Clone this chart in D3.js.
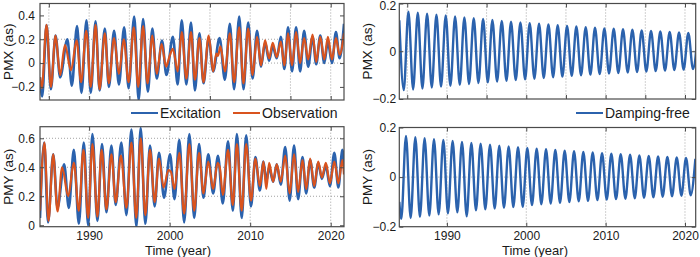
<!DOCTYPE html>
<html>
<head>
<meta charset="utf-8">
<script src="https://cdn.jsdelivr.net/npm/d3@7"></script>
<style>
  body { margin: 0; background: #fff; }
  svg { display: block; font-family: 'Liberation Sans', Arial, sans-serif; }
</style>
</head>
<body>
<svg width="700" height="257"></svg>
<script>
// extrema: [year, value in arcsec]
var pmxExc = [[1983.9,-0.12],[1984.17,-0.28],[1984.71,0.32],[1985.25,-0.22],[1985.83,0.23],[1986.4,-0.12],[1987.3,0.2],[1987.85,-0.19],[1988.5,0.31],[1989.05,-0.25],[1989.67,0.36],[1990.2,-0.25],[1990.8,0.35],[1991.3,-0.23],[1991.95,0.29],[1992.45,-0.2],[1993.1,0.27],[1993.7,-0.18],[1994.35,0.3],[1994.9,-0.21],[1995.6,0.39],[1996.15,-0.31],[1996.7,0.37],[1997.3,-0.24],[1997.85,0.29],[1998.4,-0.13],[1999.05,0.19],[1999.6,-0.1],[2000.4,0.22],[2001.0,-0.18],[2001.5,0.36],[2002.07,-0.18],[2002.65,0.34],[2003.14,-0.23],[2003.7,0.25],[2004.2,-0.17],[2004.85,0.21],[2005.4,-0.07],[2006.2,0.21],[2006.86,-0.14],[2007.48,0.33],[2008.0,-0.22],[2008.64,0.39],[2009.17,-0.22],[2009.75,0.34],[2010.3,-0.13],[2010.85,0.27],[2011.35,-0.03],[2011.85,0.17],[2012.35,0.02],[2012.8,0.14],[2013.3,0.04],[2013.8,0.22],[2014.25,-0.05],[2014.7,0.3],[2015.2,-0.07],[2015.7,0.3],[2016.2,-0.07],[2016.7,0.27],[2017.2,-0.03],[2017.75,0.22],[2018.2,-0.01],[2018.7,0.23],[2019.2,0.0],[2019.65,0.18],[2020.15,0.0],[2020.65,0.26],[2021.1,0.04],[2021.65,0.33]];

var pmxObs = [[1983.9,-0.12],[1984.12,-0.21],[1984.71,0.32],[1985.25,-0.2],[1985.83,0.23],[1986.4,-0.1],[1987.0,0.15],[1987.75,-0.06],[1988.45,0.19],[1989.0,-0.16],[1989.65,0.27],[1990.2,-0.2],[1990.8,0.32],[1991.3,-0.22],[1991.95,0.25],[1992.45,-0.17],[1993.1,0.21],[1993.7,-0.09],[1994.3,0.2],[1994.9,-0.16],[1995.55,0.3],[1996.1,-0.2],[1996.7,0.31],[1997.25,-0.17],[1997.85,0.23],[1998.4,-0.09],[1999.0,0.16],[1999.55,-0.03],[2000.0,0.06],[2000.4,0.12],[2001.0,-0.07],[2001.5,0.26],[2002.07,-0.13],[2002.65,0.26],[2003.14,-0.14],[2003.7,0.21],[2004.2,-0.16],[2004.85,0.23],[2005.4,-0.07],[2005.8,0.08],[2006.0,0.06],[2006.3,0.14],[2006.86,-0.07],[2007.48,0.25],[2008.0,-0.16],[2008.64,0.3],[2009.17,-0.17],[2009.75,0.29],[2010.3,-0.1],[2010.85,0.22],[2011.35,-0.02],[2011.85,0.19],[2012.35,0.04],[2012.8,0.17],[2013.3,0.05],[2013.8,0.18],[2014.25,-0.02],[2014.7,0.25],[2015.2,-0.02],[2015.7,0.26],[2016.2,0.0],[2016.7,0.21],[2017.2,0.03],[2017.75,0.24],[2018.2,0.01],[2018.7,0.22],[2019.2,0.03],[2019.65,0.22],[2020.15,0.03],[2020.65,0.21],[2021.1,0.07],[2021.65,0.25]];

var pmyExc = [[1983.9,0.05],[1984.42,0.57],[1984.9,0.02],[1985.54,0.49],[1986.07,0.12],[1986.9,0.42],[1987.48,0.12],[1988.1,0.52],[1988.72,0.01],[1989.34,0.57],[1989.88,0.0],[1990.41,0.63],[1991.03,0.03],[1991.6,0.56],[1992.15,0.09],[1992.77,0.55],[1993.3,0.14],[1994.0,0.57],[1994.63,0.07],[1995.25,0.66],[1995.87,-0.01],[1996.4,0.67],[1996.98,0.01],[1997.56,0.55],[1998.14,0.13],[1998.68,0.5],[1999.3,0.19],[2000.05,0.49],[2000.6,0.18],[2001.2,0.59],[2001.8,0.02],[2002.45,0.63],[2003.05,0.05],[2003.65,0.56],[2004.2,0.19],[2004.8,0.49],[2005.4,0.22],[2006.0,0.48],[2006.6,0.15],[2007.25,0.58],[2007.85,0.1],[2008.35,0.63],[2008.95,0.05],[2009.5,0.62],[2010.1,0.13],[2010.65,0.47],[2011.2,0.24],[2011.65,0.44],[2012.0,0.3],[2012.35,0.4],[2012.85,0.3],[2013.3,0.42],[2013.8,0.28],[2014.35,0.54],[2014.9,0.17],[2015.45,0.55],[2015.95,0.18],[2016.5,0.47],[2016.95,0.22],[2017.45,0.45],[2017.95,0.26],[2018.45,0.43],[2018.9,0.32],[2019.4,0.41],[2019.9,0.27],[2020.45,0.5],[2020.95,0.26],[2021.45,0.52],[2021.65,0.42]];

var pmyObs = [[1983.9,0.1],[1984.45,0.57],[1984.95,0.03],[1985.54,0.49],[1986.07,0.095],[1986.65,0.4],[1987.4,0.2],[1988.1,0.43],[1988.72,0.1],[1989.3,0.52],[1989.88,0.05],[1990.41,0.56],[1991.03,0.06],[1991.55,0.52],[1992.15,0.11],[1992.77,0.49],[1993.3,0.16],[1993.95,0.48],[1994.63,0.12],[1995.25,0.57],[1995.85,0.05],[1996.4,0.6],[1996.98,0.07],[1997.56,0.52],[1998.14,0.16],[1998.68,0.46],[1999.25,0.26],[1999.85,0.38],[2000.15,0.37],[2000.6,0.25],[2001.2,0.5],[2001.8,0.08],[2002.45,0.56],[2003.05,0.1],[2003.65,0.5],[2004.2,0.22],[2004.8,0.44],[2005.4,0.25],[2005.95,0.43],[2006.25,0.39],[2006.6,0.21],[2007.25,0.52],[2007.85,0.14],[2008.35,0.56],[2008.95,0.1],[2009.5,0.56],[2010.1,0.17],[2010.65,0.46],[2011.2,0.27],[2011.65,0.44],[2012.0,0.25],[2012.35,0.43],[2012.85,0.3],[2013.3,0.42],[2013.8,0.3],[2014.35,0.48],[2014.9,0.22],[2015.45,0.49],[2015.95,0.23],[2016.5,0.45],[2016.95,0.25],[2017.45,0.46],[2017.95,0.27],[2018.45,0.44],[2018.9,0.33],[2019.4,0.43],[2019.9,0.29],[2020.45,0.44],[2020.95,0.29],[2021.45,0.45],[2021.65,0.35]];

var pmxFree = [[1984.0,0.13],[1984.56,-0.163],[1985.15,0.166],[1985.74,-0.16],[1986.33,0.161],[1986.91,-0.156],[1987.5,0.157],[1988.09,-0.152],[1988.68,0.153],[1989.26,-0.148],[1989.85,0.15],[1990.44,-0.145],[1991.03,0.146],[1991.62,-0.141],[1992.2,0.142],[1992.79,-0.137],[1993.38,0.138],[1993.97,-0.133],[1994.56,0.135],[1995.15,-0.13],[1995.73,0.131],[1996.32,-0.127],[1996.91,0.127],[1997.5,-0.124],[1998.08,0.124],[1998.67,-0.121],[1999.26,0.121],[1999.85,-0.118],[2000.43,0.118],[2001.02,-0.115],[2001.61,0.115],[2002.2,-0.112],[2002.79,0.112],[2003.38,-0.109],[2003.96,0.109],[2004.55,-0.106],[2005.14,0.106],[2005.73,-0.103],[2006.31,0.104],[2006.9,-0.101],[2007.49,0.101],[2008.08,-0.098],[2008.66,0.099],[2009.25,-0.096],[2009.84,0.096],[2010.43,-0.093],[2011.02,0.094],[2011.6,-0.091],[2012.19,0.092],[2012.78,-0.089],[2013.37,0.09],[2013.96,-0.087],[2014.54,0.087],[2015.13,-0.085],[2015.72,0.085],[2016.31,-0.083],[2016.89,0.083],[2017.48,-0.081],[2018.07,0.081],[2018.66,-0.079],[2019.25,0.079],[2019.83,-0.077],[2020.42,0.077],[2021.01,-0.075],[2021.6,0.075]];

var pmyFree = [[1984.0,-0.1],[1984.25,-0.168],[1984.84,0.166],[1985.43,-0.165],[1986.02,0.161],[1986.6,-0.16],[1987.19,0.157],[1987.78,-0.155],[1988.37,0.153],[1988.96,-0.15],[1989.55,0.15],[1990.13,-0.146],[1990.72,0.146],[1991.31,-0.142],[1991.9,0.142],[1992.49,-0.158],[1993.08,0.138],[1993.66,-0.134],[1994.25,0.135],[1994.84,-0.13],[1995.43,0.131],[1996.02,-0.127],[1996.6,0.127],[1997.19,-0.124],[1997.78,0.124],[1998.37,-0.121],[1998.96,0.121],[1999.55,-0.12],[2000.13,0.118],[2000.72,-0.113],[2001.31,0.115],[2001.9,-0.11],[2002.49,0.112],[2003.08,-0.107],[2003.66,0.109],[2004.25,-0.104],[2004.84,0.106],[2005.43,-0.101],[2006.02,0.104],[2006.61,-0.098],[2007.19,0.101],[2007.78,-0.096],[2008.37,0.099],[2008.96,-0.093],[2009.55,0.096],[2010.14,-0.091],[2010.72,0.094],[2011.31,-0.089],[2011.9,0.092],[2012.49,-0.087],[2013.08,0.09],[2013.67,-0.085],[2014.25,0.087],[2014.84,-0.083],[2015.43,0.085],[2016.02,-0.081],[2016.61,0.083],[2017.19,-0.079],[2017.78,0.081],[2018.37,-0.077],[2018.96,0.079],[2019.55,-0.075],[2020.13,0.077],[2020.72,-0.073],[2021.31,0.074]];

var yearTicks = [1990, 2000, 2010, 2020];
var yearGrid5 = [1985, 1990, 1995, 2000, 2005, 2010, 2015, 2020];
var pmxTicks = [-0.2, 0, 0.2, 0.4];
var pmyTicks = [0, 0.2, 0.4, 0.6];
var freeTicks = [-0.2, 0, 0.2];

var blue = '#2b62ad', red = '#d9531e', axisCol = '#4a4a4a';
var svg = d3.select('svg');
var clipN = 0;

function panel(p) {
  var x = d3.scaleLinear().domain(p.xDom).range([p.left, p.right]);
  var y = d3.scaleLinear().domain(p.yDom).range([p.bottom, p.top]);
  var g = svg.append('g');
  var cid = 'clip' + (++clipN);
  g.append('clipPath').attr('id', cid).append('rect')
    .attr('x', p.left).attr('y', p.top)
    .attr('width', p.right - p.left).attr('height', p.bottom - p.top);

  // dotted grid
  g.selectAll('.vg').data(p.xGrid).enter().append('line')
    .attr('x1', d => x(d)).attr('x2', d => x(d))
    .attr('y1', p.top).attr('y2', p.bottom)
    .attr('stroke', '#8a8a8a').attr('stroke-width', 0.8).attr('stroke-dasharray', '1,2');
  g.selectAll('.hg').data(p.yGrid).enter().append('line')
    .attr('x1', p.left).attr('x2', p.right)
    .attr('y1', d => y(d)).attr('y2', d => y(d))
    .attr('stroke', '#8a8a8a').attr('stroke-width', 0.8).attr('stroke-dasharray', '1,2');

  var line = d3.line().x(d => x(d[0])).y(d => y(d[1])).curve(d3.curveMonotoneX);
  p.series.forEach(function(s) {
    g.append('path').attr('d', line(s.data))
      .attr('clip-path', 'url(#' + cid + ')')
      .attr('fill', 'none').attr('stroke', s.color)
      .attr('stroke-width', s.width).attr('stroke-linejoin', 'round');
  });

  // axes, ticks inward on all four sides
  var ax = [
    [d3.axisBottom(x).tickValues(p.xTicks).tickSize(-4).tickPadding(5)
       .tickFormat(p.xLabels ? d3.format('d') : ''), 'translate(0,' + p.bottom + ')'],
    [d3.axisTop(x).tickValues(p.xTicks).tickSize(-4).tickFormat(''), 'translate(0,' + p.top + ')'],
    [d3.axisLeft(y).tickValues(p.yTicks).tickSize(-4).tickPadding(p.pad)
       .tickFormat(d => d === 0 ? '0' : d3.format('.1f')(d)), 'translate(' + p.left + ',0)'],
    [d3.axisRight(y).tickValues(p.yTicks).tickSize(-4).tickFormat(''), 'translate(' + p.right + ',0)']
  ];
  ax.forEach(function(a, i) {
    var ag = g.append('g').attr('transform', a[1]).call(a[0]);
    ag.select('.domain').remove();
    ag.selectAll('line').attr('stroke', axisCol);
    ag.selectAll('text').attr('fill', '#1a1a1a').attr('font-size', 12)
      .attr('font-family', "'Liberation Sans', Arial, sans-serif");
    // the label on the very top edge sits a little lower so it stays in view
    if (i === 2 && p.topShift) {
      ag.selectAll('.tick').filter(d => d === p.yDom[1])
        .select('text').attr('dy', (0.32 * 12 + p.topShift) + 'px');
    }
  });

  g.append('rect').attr('x', p.left).attr('y', p.top)
    .attr('width', p.right - p.left).attr('height', p.bottom - p.top)
    .attr('fill', 'none').attr('stroke', axisCol).attr('stroke-width', 1.2);

  g.append('text')
    .attr('transform', 'translate(' + p.ylabX + ',' + ((p.top + p.bottom) / 2) + ') rotate(-90)')
    .attr('text-anchor', 'middle').attr('font-size', 13.5).attr('fill', '#1a1a1a')
    .text(p.ylabel);

  if (p.xLabels) {
    g.append('text').attr('x', p.xlabX).attr('y', 255)
      .attr('text-anchor', 'middle').attr('font-size', 13).attr('fill', '#1a1a1a')
      .text('Time (year)');
  }
}

function legendItem(x, y, color, label) {
  svg.append('line').attr('x1', x).attr('x2', x + 27).attr('y1', y).attr('y2', y)
    .attr('stroke', color).attr('stroke-width', 2);
  svg.append('text').attr('x', x + 29).attr('y', y + 5).attr('font-size', 14)
    .attr('fill', '#1a1a1a').text(label);
}

var leftX = [1983.9, 2021.65], rightX = [1984.0, 2021.35];

panel({left: 40, right: 344, top: 3.5, bottom: 100, xDom: leftX, yDom: [-0.31, 0.5],
  xTicks: yearGrid5, xGrid: yearGrid5, yTicks: pmxTicks, yGrid: [0, 0.2], xLabels: false,
  ylabel: 'PMX (as)', ylabX: 12.5, pad: 5,
  series: [{data: pmxExc, color: blue, width: 2.6}, {data: pmxObs, color: red, width: 2.2}]});

panel({left: 40, right: 344, top: 126.7, bottom: 226.7, xDom: leftX, yDom: [-0.01, 0.68],
  xTicks: yearTicks, xGrid: yearTicks, yTicks: pmyTicks, yGrid: [0.2, 0.4, 0.6], xLabels: true,
  ylabel: 'PMY (as)', ylabX: 12.5, pad: 5, xlabX: 178,
  series: [{data: pmyExc, color: blue, width: 2.6}, {data: pmyObs, color: red, width: 2.2}]});

panel({left: 399.3, right: 695.7, top: 3.5, bottom: 99, xDom: rightX, yDom: [-0.2, 0.2],
  xTicks: yearGrid5, xGrid: yearGrid5, yTicks: freeTicks, yGrid: [0], xLabels: false,
  ylabel: 'PMX (as)', ylabX: 372, pad: 3, topShift: 2.5,
  series: [{data: pmxFree, color: blue, width: 2.4}]});

panel({left: 399.3, right: 695.7, top: 127.5, bottom: 226.7, xDom: rightX, yDom: [-0.2, 0.2],
  xTicks: yearTicks, xGrid: yearTicks, yTicks: freeTicks, yGrid: [0], xLabels: true,
  ylabel: 'PMY (as)', ylabX: 372, pad: 3, xlabX: 535,
  series: [{data: pmyFree, color: blue, width: 2.4}]});

legendItem(131, 113, blue, 'Excitation');
legendItem(233, 113, red, 'Observation');
legendItem(576, 113, blue, 'Damping-free');
</script>
</body>
</html>
